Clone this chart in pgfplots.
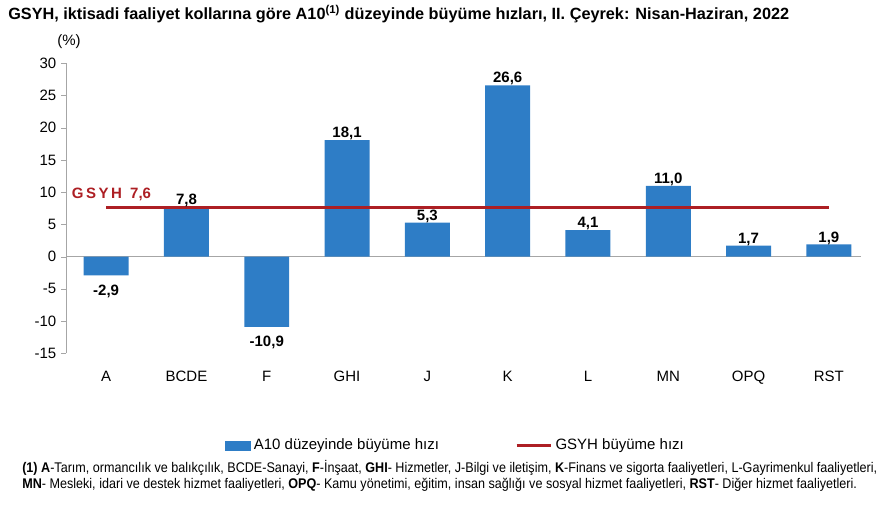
\documentclass[border=0pt]{standalone}
\usepackage{fontspec}
\setmainfont{Liberation Sans}
\newfontfamily\narrow[FakeStretch=0.9]{Liberation Sans}
\usepackage{pgfplots}
\pgfplotsset{compat=1.18}
\definecolor{barblue}{HTML}{2E7DC6}
\definecolor{gsyhred}{HTML}{AD1F24}
\definecolor{zerogray}{HTML}{A6A6A6}

\begin{document}
\begin{tikzpicture}
\path[use as bounding box] (0,0) rectangle (671.25pt,391.5pt);

% title and unit
\node[anchor=west,font=\fontsize{12.2}{14}\selectfont\bfseries,inner sep=0pt]
  at (6pt,381pt) {GSYH, iktisadi faaliyet kollarına göre A10\textsuperscript{(1)} düzeyinde büyüme hızları, II. Çeyrek: Nisan-Haziran, 2022};
\node[font=\fontsize{11.25}{13}\selectfont,inner sep=0pt] at (51.75pt,360pt) {(\%)};

\begin{axis}[
  at={(49.5pt,126.5pt)}, anchor=south west,
  scale only axis, width=596.25pt, height=217.5pt,
  xmin=-0.5, xmax=9.4, ymin=-15, ymax=30,
  axis lines*=left,
  x axis line style={draw=none},
  y axis line style={draw=zerogray},
  xtick={0,...,9},
  xticklabels={A,BCDE,F,GHI,J,K,L,MN,OPQ,RST},
  xtick style={draw=none},
  xticklabel style={yshift=-6pt},
  ytick={-15,-10,...,30},
  yticklabels={-15,-10,-5,0,5,10,15,20,25,30},
  ytick style={draw=zerogray},
  tick align=outside, major tick length=3.75pt,
  tick label style={font=\fontsize{11.25}{13}\selectfont},
  /pgf/number format/assume math mode=true,
  ybar, bar width=0.56, bar shift=0pt,
  nodes near coords,
  every node near coord/.append style={font=\fontsize{11.25}{13}\selectfont\bfseries, yshift=-3.5pt,
    /pgf/number format/.cd, fixed, fixed zerofill, precision=1, use comma, assume math mode=true},
  legend style={at={(0.49,-0.318)}, anchor=center, draw=none,
    legend columns=2, font=\fontsize{11.25}{13}\selectfont,
    /tikz/every even column/.append style={column sep=55pt}},
  clip=false,
]
\draw[zerogray] (axis cs:-0.5,0) -- (axis cs:9.4,0);
\addplot[fill=barblue, draw=none,
  legend image code/.code={\fill[barblue] (0pt,-3.75pt) rectangle (20pt,3.75pt);}]
  coordinates {(0,-2.9) (1,7.8) (2,-10.9) (3,18.1) (4,5.3) (5,26.6) (6,4.1) (7,11.0) (8,1.7) (9,1.9)};
\addlegendentry{A10 düzeyinde büyüme hızı}
\addplot[sharp plot, gsyhred, line width=2.4pt, nodes near coords={}, mark=none,
  legend image code/.code={\draw[gsyhred,line width=2.4pt] (0pt,0pt) -- (26pt,0pt);}]
  coordinates {(0,7.6) (9,7.6)};
\addlegendentry{GSYH büyüme hızı}
\node[anchor=west, text=gsyhred, font=\fontsize{11.25}{13}\selectfont\bfseries, inner sep=0pt]
  at (axis cs:-0.43,9.7) {G\,S\,Y\,H\ \ 7,6};
\end{axis}

% footnote
\node[anchor=west,inner sep=0pt,font=\narrow\fontsize{10.5}{12}\selectfont] at (16.5pt,40.5pt)
  {\textbf{(1) A}-Tarım, ormancılık ve balıkçılık, BCDE-Sanayi, \textbf{F}-İnşaat, \textbf{GHI}- Hizmetler, J-Bilgi ve iletişim, \textbf{K}-Finans ve sigorta faaliyetleri, L-Gayrimenkul faaliyetleri,};
\node[anchor=west,inner sep=0pt,font=\narrow\fontsize{10.5}{12}\selectfont] at (16.5pt,27.75pt)
  {\textbf{MN}- Mesleki, idari ve destek hizmet faaliyetleri, \textbf{OPQ}- Kamu yönetimi, eğitim, insan sağlığı ve sosyal hizmet faaliyetleri, \textbf{RST}- Diğer hizmet faaliyetleri.};
\end{tikzpicture}
\end{document}
